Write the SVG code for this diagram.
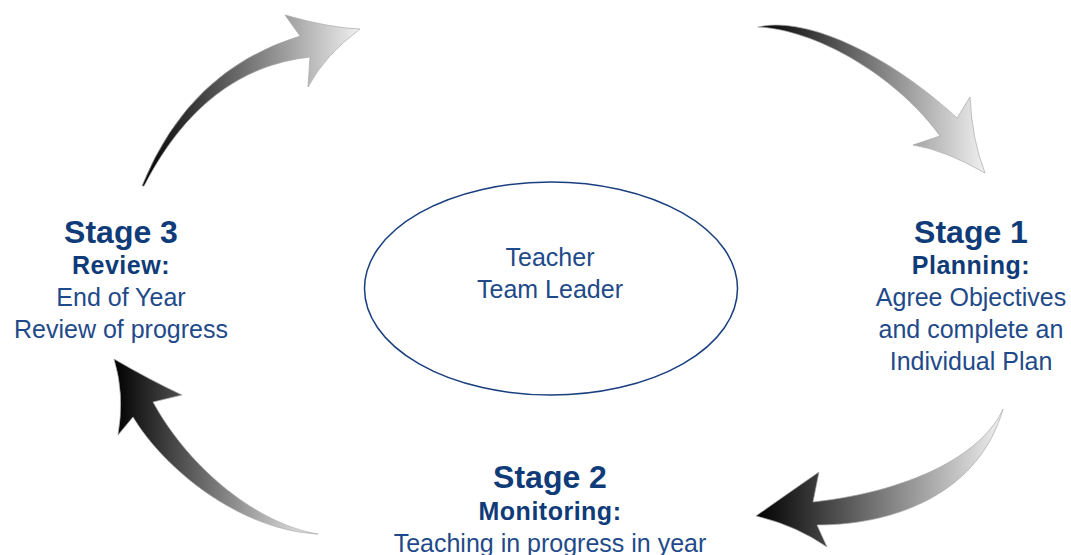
<svg xmlns="http://www.w3.org/2000/svg" width="1071" height="555" viewBox="0 0 1071 555">
  <style>
    .stage { font-family: "Liberation Sans", Arial, sans-serif; font-weight: bold; font-size: 32px; fill: #0f3b78; text-anchor: middle; }
    .sub { font-family: "Liberation Sans", Arial, sans-serif; font-weight: bold; font-size: 25px; letter-spacing: 0.5px; fill: #0f3b78; text-anchor: middle; }
    .body { font-family: "Liberation Sans", Arial, sans-serif; font-size: 25px; fill: #1f4a8a; text-anchor: middle; }
    .arrow { fill: url(#shade); stroke: #a8a8a8; stroke-width: 0.7; stroke-linejoin: round; }
  </style>
  <defs>
    <linearGradient id="shade" x1="0" y1="0" x2="1" y2="0">
      <stop offset="0" stop-color="#000000"/>
      <stop offset="1" stop-color="#f0f0f0"/>
    </linearGradient>
  </defs>
  <rect width="1071" height="555" fill="#ffffff"/>

  <!-- cycle arrows -->
  <g id="connectors">
    <!-- Stage 3 to Stage 1 (upper left) -->
    <path class="arrow" d="M142,186 Q189,69.5 300,36 L285,15 Q330,28 360,29 Q325,55 308,87 L310,57 Q204,69 144,186 Z"/>
    <!-- into Stage 1 (upper right) -->
    <path class="arrow" d="M758,27 C810,15 895,60 957,118 L970,97 Q972,140 985,173 Q945,150 913,145 L940,136 C900,80 820,30 758,27 Z"/>
    <!-- Stage 1 to Stage 2 (lower right) -->
    <path class="arrow" d="M1003,409 C985,450 920,490 813,502 L819,472 Q790,492 756,516 Q795,525 827,547 L817,525 C900,525 980,490 1003,409 Z"/>
    <!-- Stage 2 to Stage 3 (lower left) -->
    <path class="arrow" d="M318,534 C260,525 190,470 153,402 L182,395 Q150,380 114,359 Q125,395 118,435 L133,417 C165,470 240,530 318,534 Z"/>
  </g>

  <g id="centre">
    <ellipse cx="551" cy="288.5" rx="186.5" ry="106.5" fill="none" stroke="#1a3f7f" stroke-width="1.5"/>
    <text class="body" x="550" y="266">Teacher</text>
    <text class="body" x="550" y="298">Team Leader</text>
  </g>

  <g id="stage1">
    <text class="stage" x="971" y="243">Stage 1</text>
    <text class="sub" x="971" y="274">Planning:</text>
    <text class="body" x="971" y="306">Agree Objectives</text>
    <text class="body" x="971" y="338">and complete an</text>
    <text class="body" x="971" y="370">Individual Plan</text>
  </g>

  <g id="stage2">
    <text class="stage" x="550" y="488">Stage 2</text>
    <text class="sub" x="550" y="520">Monitoring:</text>
    <text class="body" x="550" y="552">Teaching in progress in year</text>
  </g>

  <g id="stage3">
    <text class="stage" x="121" y="243">Stage 3</text>
    <text class="sub" x="121" y="274">Review:</text>
    <text class="body" x="121" y="306">End of Year</text>
    <text class="body" x="121" y="338">Review of progress</text>
  </g>
</svg>
